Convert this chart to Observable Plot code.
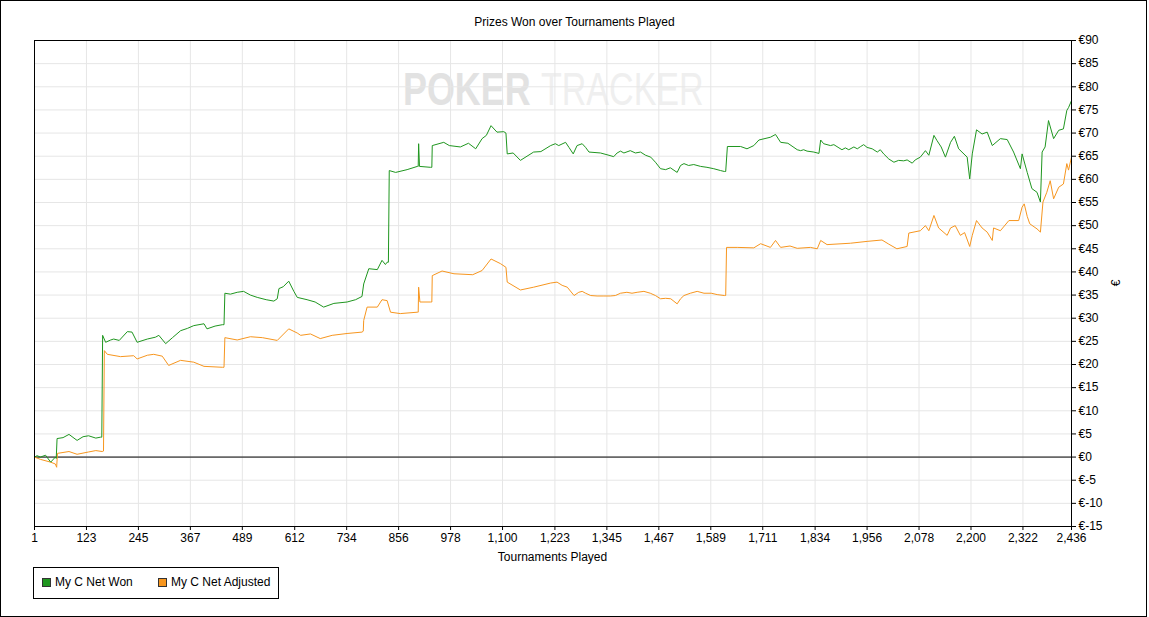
<!DOCTYPE html>
<html>
<head>
<meta charset="utf-8">
<script src="https://cdn.jsdelivr.net/npm/d3@7"></script>
<script src="https://cdn.jsdelivr.net/npm/@observablehq/plot@0.6"></script>
<style>
  html, body { margin: 0; padding: 0; background: #fff; }
  #wrap { position: relative; width: 1149px; height: 617px; overflow: hidden; font-family: "Liberation Sans", Arial, sans-serif; font-size: 12px; color: #000; }
  #border { position: absolute; left: 0; top: 0; width: 1145px; height: 615px; border: 1px solid #000; pointer-events: none; }
  #title { position: absolute; left: 0; width: 1149px; top: 15px; text-align: center; }
  #xlabel { position: absolute; left: 34px; width: 1037px; top: 550px; text-align: center; }
  #ylabel { position: absolute; left: 1108px; top: 275px; width: 16px; height: 16px; line-height: 16px; text-align: center; transform: rotate(-90deg); }
  #legend { position: absolute; left: 33px; top: 567px; width: 244px; height: 30px; border: 1px solid #000; }
  .sw { position: absolute; top: 10px; width: 7px; height: 7px; border: 1px solid #333; }
  .lt { position: absolute; top: 7px; white-space: nowrap; }
  #wm { position: absolute; left: 0; top: 0; }
  #chart { position: absolute; left: 0; top: 0; }
</style>
</head>
<body>
<div id="wrap">
  <svg id="wm" width="1149" height="617">
    <g transform="translate(403,105) scale(0.78,1)"><text x="0" y="0" font-family="Liberation Sans, Arial" font-weight="bold" font-size="46" fill="#e2e2e2">POKER</text></g>
    <g transform="translate(541,105) scale(0.74,1)"><text x="0" y="0" font-family="Liberation Sans, Arial" font-size="46" fill="#efefef">TRACKER</text></g>
  </svg>
  <div id="chart"></div>
  <div id="title">Prizes Won over Tournaments Played</div>
  <div id="xlabel">Tournaments Played</div>
  <div id="ylabel">€</div>
  <div id="legend">
    <div class="sw" style="left:8px;background:#1f961f"></div>
    <div class="lt" style="left:21px">My C Net Won</div>
    <div class="sw" style="left:124px;background:#f7961f"></div>
    <div class="lt" style="left:137px">My C Net Adjusted</div>
  </div>
  <div id="border"></div>
</div>
<script>
const seriesNames = ["My C Net Won", "My C Net Adjusted"];
const seriesColors = ["#1f961f", "#f7961f"];

const xTicks = [1, 123, 245, 367, 489, 612, 734, 856, 978, 1100, 1223, 1345, 1467, 1589, 1711, 1834, 1956, 2078, 2200, 2322, 2436];
const yTicks = [-15, -10, -5, 0, 5, 10, 15, 20, 25, 30, 35, 40, 45, 50, 55, 60, 65, 70, 75, 80, 85, 90];

// My C Net Won: [tournament, euros]
const netWon = [
  [1,0],[7,0.3],[15,0],[27,0.4],[39,-1.1],[50,0],[52,-0.3],[54,4.0],[68,4.2],[82,4.9],[101,3.6],[115,4.4],[128,4.6],[145,4.1],[156,4.3],[159,4.3],
  [161,26.3],[168,24.8],[180,25.3],[187,25.5],[200,25.2],[219,27.1],[230,27.0],[242,24.8],[266,25.5],[285,25.9],[293,26.3],[309,24.5],[325,25.8],[344,27.3],[360,27.8],[375,28.4],[399,28.8],[406,27.7],[425,28.3],[442,28.6],[446,28.6],
  [448,35.4],[461,35.2],[477,35.6],[492,35.8],[508,35.0],[524,34.5],[545,34.0],[563,33.7],[571,34.2],[575,36.4],[585,36.8],[598,38.0],[610,35.8],[618,34.5],[641,34.0],[660,33.5],[680,32.4],[704,33.2],[735,33.5],[755,34.0],[770,34.7],
  [774,37.4],[786,40.7],[806,40.5],[817,42.5],[825,41.6],[829,42.1],[832,42.1],
  [834,61.9],[849,61.5],[876,62.1],[900,62.8],[902,62.8],[903,67.7],[905,62.8],[931,62.6],[934,62.6],
  [935,67.3],[962,68.0],[975,67.3],[1001,67.0],[1020,67.8],[1037,66.6],[1052,68.8],[1062,69.5],[1073,71.6],[1087,70.2],[1103,70.3],[1108,70.0],
  [1111,65.5],[1125,65.7],[1142,64.1],[1173,65.9],[1190,66.0],[1213,67.3],[1224,67.7],[1232,67.3],[1248,68.0],[1256,66.9],[1266,65.5],[1275,67.3],[1287,67.7],[1295,66.9],[1303,65.9],[1330,65.7],[1350,65.2],[1361,64.9],[1369,65.7],[1377,66.1],[1385,65.7],[1400,66.2],[1412,65.7],[1424,65.9],[1436,65.2],[1448,64.8],[1459,63.7],[1471,62.3],[1483,62.1],[1494,62.5],[1510,61.5],[1518,63.0],[1526,63.4],[1537,63.0],[1549,63.2],[1565,62.8],[1580,62.6],[1596,62.3],[1612,61.9],[1621,61.7],[1624,61.7],
  [1628,67.1],[1659,67.1],[1674,66.6],[1690,67.3],[1702,68.5],[1729,69.1],[1741,69.7],[1753,68.0],[1770,67.8],[1792,66.4],[1800,66.2],[1807,66.4],[1815,66.1],[1831,65.9],[1843,65.6],[1847,68.5],[1854,67.7],[1870,67.3],[1878,67.5],[1890,66.8],[1897,66.4],[1905,66.8],[1913,66.4],[1925,67.0],[1933,66.6],[1941,67.1],[1948,67.5],[1956,66.9],[1968,66.6],[1980,65.9],[1987,66.4],[1995,65.5],[2007,64.4],[2019,63.7],[2030,64.1],[2042,64.0],[2050,64.2],[2062,63.5],[2069,64.2],[2081,64.8],[2093,66.2],[2101,65.2],
  [2113,69.5],[2120,68.4],[2130,67.0],[2140,64.8],[2152,68.0],[2161,69.3],[2171,66.6],[2191,64.8],[2197,60.1],[2203,65.5],[2213,70.7],[2226,69.8],[2238,70.2],[2250,67.3],[2269,68.8],[2285,68.6],[2300,65.9],[2316,62.3],[2320,65.5],[2332,61.5],[2343,58.0],[2355,57.2],[2363,55.1],
  [2367,65.9],[2374,67.0],[2382,72.7],[2394,68.8],[2406,70.6],[2417,70.9],[2425,74.9],[2429,75.5],[2436,77.0]
];

// My C Net Adjusted: [tournament, euros]
const netAdjusted = [
  [1,0],[15,-0.5],[39,-1.1],[50,-1.5],[53,-2.2],[55,0.8],[82,1.2],[101,0.6],[128,1.1],[145,1.4],[160,1.2],[163,1.3],
  [165,23.0],[172,22.2],[203,21.7],[234,21.9],[242,21.2],[266,22.0],[281,22.2],[301,21.8],[316,19.8],[344,20.9],[375,20.5],[399,19.6],[442,19.4],[446,19.4],
  [448,25.8],[477,25.3],[508,26.0],[536,25.8],[571,25.2],[598,27.7],[618,26.8],[626,26.3],[649,26.6],[672,25.6],[700,26.3],[735,26.7],[770,27.0],[773,27.2],
  [774,29.5],[782,32.4],[806,32.4],[817,34.0],[829,33.8],[837,31.3],[860,31.0],[900,31.3],[902,31.3],[903,36.7],[906,33.5],[931,33.5],[934,33.5],
  [935,39.2],[958,40.2],[986,39.6],[1030,39.4],[1052,40.3],[1073,42.8],[1095,41.8],[1108,41.0],
  [1111,37.8],[1142,36.1],[1173,36.7],[1213,37.6],[1228,37.8],[1240,37.1],[1252,36.7],[1268,34.9],[1279,35.6],[1287,35.8],[1295,35.4],[1307,34.9],[1322,34.8],[1338,34.8],[1353,34.8],[1365,34.9],[1377,35.4],[1392,35.6],[1404,35.4],[1416,35.6],[1432,35.8],[1447,35.4],[1459,34.9],[1471,34.2],[1483,34.3],[1495,34.2],[1510,33.1],[1518,34.2],[1526,34.9],[1541,35.4],[1557,35.8],[1573,35.4],[1590,35.4],[1604,35.1],[1621,34.9],[1624,34.9],
  [1626,45.3],[1651,45.3],[1690,45.2],[1706,46.1],[1729,45.3],[1741,46.8],[1753,45.3],[1775,45.6],[1792,45.1],[1823,45.3],[1839,45.0],[1847,46.8],[1862,45.9],[1917,46.2],[1956,46.6],[1991,46.9],[2007,46.0],[2026,45.0],[2050,45.5],
  [2054,48.4],[2081,48.9],[2093,50.0],[2101,48.9],[2113,52.2],[2124,49.5],[2144,47.9],[2152,49.5],[2163,50.0],[2175,47.9],[2185,48.5],[2197,45.5],[2203,47.9],[2213,51.1],[2226,49.5],[2238,48.6],[2250,46.8],[2253,49.5],[2269,48.9],[2289,51.1],[2312,51.1],[2320,54.0],[2325,54.7],[2332,52.0],[2338,50.4],[2355,49.3],[2363,48.6],
  [2369,55.1],[2378,57.2],[2386,59.7],[2394,55.8],[2406,58.3],[2417,59.0],[2425,63.4],[2429,62.0],[2436,64.8]
];

const chart = Plot.plot({
  width: 1149,
  height: 617,
  marginLeft: 34,
  marginRight: 78,
  marginTop: 40,
  marginBottom: 91,
  style: { fontFamily: "Liberation Sans, Arial, sans-serif", fontSize: "12px", background: "transparent", color: "#000", overflow: "visible" },
  x: { domain: [1, 2436] },
  y: { domain: [-15, 90] },
  marks: [
    Plot.gridX(xTicks, { stroke: "#e6e6e6", strokeOpacity: 1 }),
    Plot.gridY(yTicks, { stroke: "#e6e6e6", strokeOpacity: 1 }),
    Plot.ruleY([0], { stroke: "#000", strokeWidth: 1 }),
    Plot.line(netAdjusted, { x: d => d[0], y: d => d[1], stroke: seriesColors[1], strokeWidth: 1 }),
    Plot.line(netWon, { x: d => d[0], y: d => d[1], stroke: seriesColors[0], strokeWidth: 1 }),
    Plot.frame({ stroke: "#000", strokeWidth: 1 }),
    Plot.axisX(xTicks, { tickFormat: d3.format(","), tickSize: 4, tickPadding: 3, label: null, stroke: "#000" }),
    Plot.axisY(yTicks, { anchor: "right", tickFormat: d => "€" + d, tickSize: 4, tickPadding: 3, label: null, stroke: "#000" })
  ]
});
document.getElementById("chart").appendChild(chart);
</script>
</body>
</html>
